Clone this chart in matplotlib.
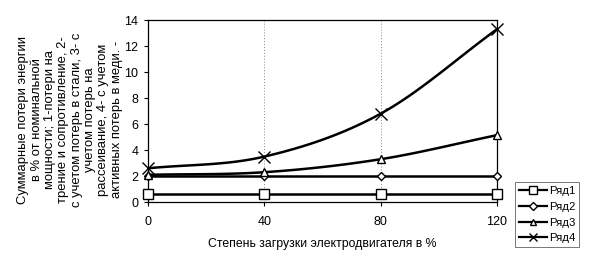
import numpy as np
import matplotlib
matplotlib.use("Agg")
import matplotlib.pyplot as plt

plt.rcParams['font.family'] = ['Liberation Sans', 'DejaVu Sans']

x = [0, 40, 80, 120]
row1 = [0.6, 0.6, 0.6, 0.6]
row2 = [2.0, 2.0, 2.0, 2.0]
row3 = [2.1, 2.3, 3.3, 5.15]
row4 = [2.6, 3.5, 6.8, 13.3]
names = ['Ряд1', 'Ряд2', 'Ряд3', 'Ряд4']
markers = ['s', 'D', '^', 'x']
msizes = [7, 4.5, 6, 8]
xticks = [0, 40, 80, 120]
yticks = [0, 2, 4, 6, 8, 10, 12, 14]
ylabel = ("Суммарные потери энергии\nв % от номинальной\nмощности; 1-потери на\n"
          "трение и сопротивление, 2-\nс учетом потерь в стали, 3- с\nучетом потерь на\n"
          "рассеивание, 4- с учетом\nактивных потерь в меди. -")
xlabel = "Степень загрузки электродвигателя в %"


def smooth(xs, ys, n=30):
    xs = np.asarray(xs, float); ys = np.asarray(ys, float)
    px = np.concatenate([[2*xs[0]-xs[1]], xs, [2*xs[-1]-xs[-2]]])
    py = np.concatenate([[2*ys[0]-ys[1]], ys, [2*ys[-1]-ys[-2]]])
    ox, oy = [], []
    t = np.linspace(0, 1, n)
    for i in range(1, len(px)-2):
        p0, p1, p2, p3 = [np.array([px[j], py[j]]) for j in (i-1, i, i+1, i+2)]
        for tt in t:
            pt = 0.5*((2*p1) + (-p0+p2)*tt + (2*p0-5*p1+4*p2-p3)*tt**2 + (-p0+3*p1-3*p2+p3)*tt**3)
            ox.append(pt[0]); oy.append(pt[1])
    return ox, oy


fig = plt.figure(figsize=(5.98, 2.72), dpi=100)
ax = fig.add_axes([0.2475, 0.257, 0.5835, 0.669])

for xv in [40, 80, 120]:
    ax.axvline(xv, color='#888888', lw=0.7, ls=(0, (1, 2)), zorder=0)

series = [row1, row2, row3, row4]
handles = []
for ys, nm, mk, ms in zip(series, names, markers, msizes):
    sx, sy = smooth(x, ys)
    ax.plot(sx, sy, color='black', lw=1.8, zorder=2)
    ax.plot(x, ys, ls='none', marker=mk, ms=ms, mfc='white', mec='black', mew=1.0, zorder=3,
            clip_on=False)
    h, = ax.plot([], [], color='black', lw=1.6, marker=mk, ms=ms*0.8, mfc='white', mec='black', mew=1.0)
    handles.append(h)

ax.set_xlim(0, 120)
ax.set_ylim(0, 14)
ax.set_xticks(xticks)
ax.set_yticks(yticks)
ax.tick_params(axis='both', labelsize=9, length=3, width=0.8, direction='out')
ax.tick_params(axis='x', pad=7)
ax.tick_params(axis='y', pad=4)
for s in ax.spines.values():
    s.set_linewidth(0.9)
ax.set_xlabel(xlabel, fontsize=8.8, labelpad=7)

fig.text(0.117, 0.56, ylabel, rotation=90, ha='center', va='center',
         fontsize=9.4, linespacing=1.15, multialignment='center')

leg = fig.legend(handles, names, loc='upper left', bbox_to_anchor=(0.862, 0.33),
                 fontsize=8.2, frameon=True, fancybox=False, edgecolor='#555555',
                 handlelength=2.4, handletextpad=0.2, borderpad=0.35, labelspacing=0.5,
                 borderaxespad=0)
leg.get_frame().set_linewidth(0.7)

fig.savefig('out.png', dpi=100)
